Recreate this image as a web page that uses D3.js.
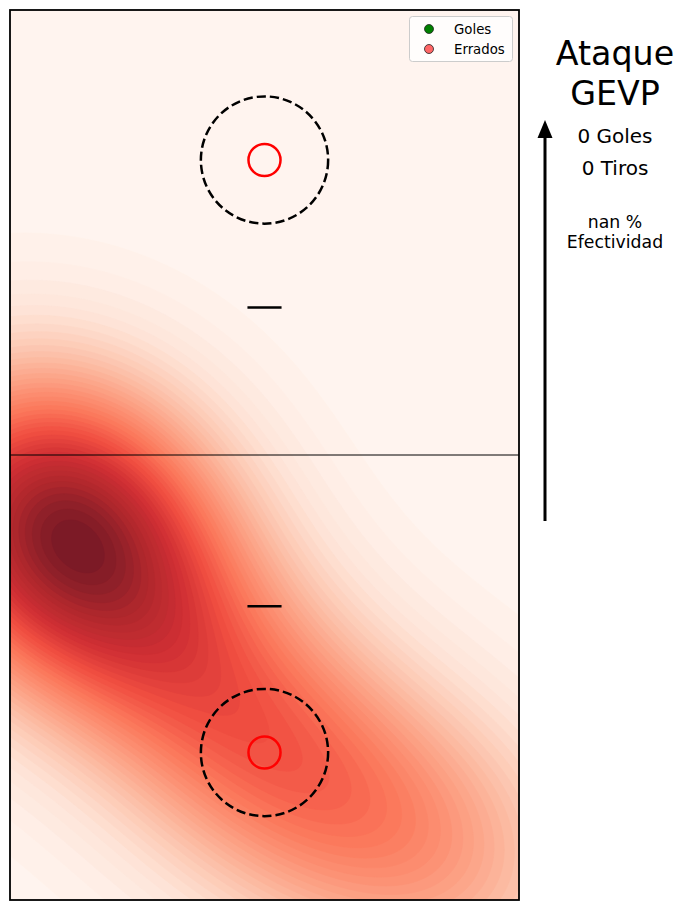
<!DOCTYPE html>
<html><head><meta charset="utf-8">
<script src="https://cdn.jsdelivr.net/npm/d3@7"></script>
<style>body{margin:0;background:#fff}svg{display:block}text{font-family:"DejaVu Sans",sans-serif}</style>
</head><body><svg id="c" width="686" height="911"></svg>
<script>
// ---- data (court in metres: 20 wide x 35 long, y measured from the top end) ----
const shotX = [2.16, 3.62, 0.47, 0.59, 4.91, 7.66, 10.22, 13.36, 17.68];
const shotY = [20.24, 19.45, 18.94, 21.81, 23.38, 26.72, 29.27, 31.43, 33.40];
const legendLabels = ["Goles", "Errados"];
const legendColors = ["#008000", "#ff6666"];
const titleLines = ["Ataque", "GEVP"];
const statLines = ["0 Goles", "0 Tiros"];
const effLines = ["nan %", "Efectividad"];
const korfY = [5.9, 29.2];
const korfX = 10;
const penaltyY = [11.7, 23.45];
const midY = 17.5;
const redsStops = ["#fff5f0","#fee0d2","#fcbba1","#fc9272","#fb6a4a","#ef3b2c","#cb181d","#a50f15","#67000d"];

// ---- setup ----
const svg = d3.select("#c");
const x = d3.scaleLinear().domain([0, 20]).range([10, 519]);
const y = d3.scaleLinear().domain([0, 35]).range([10, 900]);
const k = (519 - 10) / 20;
const reds = d3.scaleLinear().domain(redsStops.map((d, i) => i / 8)).range(redsStops).clamp(true);
const fillAlpha = 0.9;
const shade = t => d3.interpolateRgb("#ffffff", reds(t))(fillAlpha);

// ---- kernel density (shared anisotropic gaussian kernel) ----
const bwU = 4.32, bwV = 3.85, ang = 45 * Math.PI / 180;
const ca = Math.cos(ang), sa = Math.sin(ang);
function dens(mx, my) {
  let s = 0;
  for (let i = 0; i < shotX.length; i++) {
    const dx = mx - shotX[i], dy = my - shotY[i];
    const u = dx * ca + dy * sa, v = -dx * sa + dy * ca;
    s += Math.exp(-0.5 * ((u / bwU) ** 2 + (v / bwV) ** 2));
  }
  return s;
}
const cell = 2, gx0 = 6, gy0 = 6;
const nx = Math.ceil((523 - gx0) / cell) + 1, ny = Math.ceil((904 - gy0) / cell) + 1;
const values = new Float64Array(nx * ny);
for (let j = 0; j < ny; j++) for (let i = 0; i < nx; i++) {
  values[i + j * nx] = dens(x.invert(gx0 + (i + 0.5) * cell), y.invert(gy0 + (j + 0.5) * cell));
}
const vmax = d3.max(values);
const N = 45;
const step = vmax / N;
const thresholds = d3.range(1, N).map(i => i * step);

svg.append("clipPath").attr("id", "court").append("rect")
  .attr("x", x(0)).attr("y", y(0)).attr("width", x(20) - x(0)).attr("height", y(35) - y(0));

const g = svg.append("g").attr("clip-path", "url(#court)");
g.append("rect").attr("x", x(0)).attr("y", y(0)).attr("width", x(20) - x(0)).attr("height", y(35) - y(0))
  .attr("fill", shade(0.5 / N));
const path = d3.geoPath(d3.geoIdentity().scale(cell).translate([gx0, gy0]));
g.selectAll("path.band").data(d3.contours().size([nx, ny]).thresholds(thresholds)(values))
  .join("path").attr("class", "band").attr("d", path)
  .attr("fill", d => shade((d.value + step / 2) / vmax))
  .attr("stroke", d => shade((d.value + step / 2) / vmax)).attr("stroke-width", 0.6);

// ---- court lines ----
svg.append("line").attr("x1", x(0)).attr("x2", x(20)).attr("y1", y(midY)).attr("y2", y(midY))
  .attr("stroke", "#000").attr("stroke-width", 1);
svg.selectAll("line.pen").data(penaltyY).join("line").attr("class", "pen")
  .attr("x1", x(korfX) - 0.67 * k).attr("x2", x(korfX) + 0.67 * k)
  .attr("y1", d => y(d)).attr("y2", d => y(d)).attr("stroke", "#000").attr("stroke-width", 2.5);
svg.selectAll("circle.zone").data(korfY).join("circle").attr("class", "zone")
  .attr("cx", x(korfX)).attr("cy", d => y(d)).attr("r", 2.5 * k)
  .attr("fill", "none").attr("stroke", "#000").attr("stroke-width", 2.5).attr("stroke-dasharray", "9.25,4");
svg.selectAll("circle.korf").data(korfY).join("circle").attr("class", "korf")
  .attr("cx", x(korfX)).attr("cy", d => y(d)).attr("r", 0.63 * k)
  .attr("fill", "none").attr("stroke", "#ff0000").attr("stroke-width", 2.5);
svg.append("rect").attr("x", x(0)).attr("y", y(0)).attr("width", x(20) - x(0)).attr("height", y(35) - y(0))
  .attr("fill", "none").attr("stroke", "#000").attr("stroke-width", 1.8);

// ---- legend ----
const lg = svg.append("g");
lg.append("rect").attr("x", 409.5).attr("y", 16.5).attr("width", 103).attr("height", 45).attr("rx", 3)
  .attr("fill", "#fff").attr("fill-opacity", 0.8).attr("stroke", "#cccccc");
legendLabels.forEach((t, i) => {
  lg.append("circle").attr("cx", 429).attr("cy", 29 + i * 20).attr("r", 4.5)
    .attr("fill", legendColors[i]).attr("stroke", "#222").attr("stroke-width", 0.8);
  lg.append("text").attr("x", 454).attr("y", 34 + i * 20).attr("font-size", 13.3).text(t);
});

// ---- side annotations ----
svg.selectAll("text.title").data(titleLines).join("text").attr("class", "title")
  .attr("x", 615).attr("y", (d, i) => 65 + i * 40).attr("text-anchor", "middle").attr("font-size", 33.3).text(d => d);
svg.selectAll("text.stat").data(statLines).join("text").attr("class", "stat")
  .attr("x", 615).attr("y", (d, i) => 143 + i * 32).attr("text-anchor", "middle").attr("font-size", 20).text(d => d);
svg.selectAll("text.eff").data(effLines).join("text").attr("class", "eff")
  .attr("x", 615).attr("y", (d, i) => 228 + i * 20).attr("text-anchor", "middle").attr("font-size", 17.3).text(d => d);
svg.append("line").attr("x1", 545).attr("x2", 545).attr("y1", 521).attr("y2", 134)
  .attr("stroke", "#000").attr("stroke-width", 3);
svg.append("path").attr("d", "M545,120 L537.5,138 L552.5,138 Z").attr("fill", "#000");
</script></body></html>
